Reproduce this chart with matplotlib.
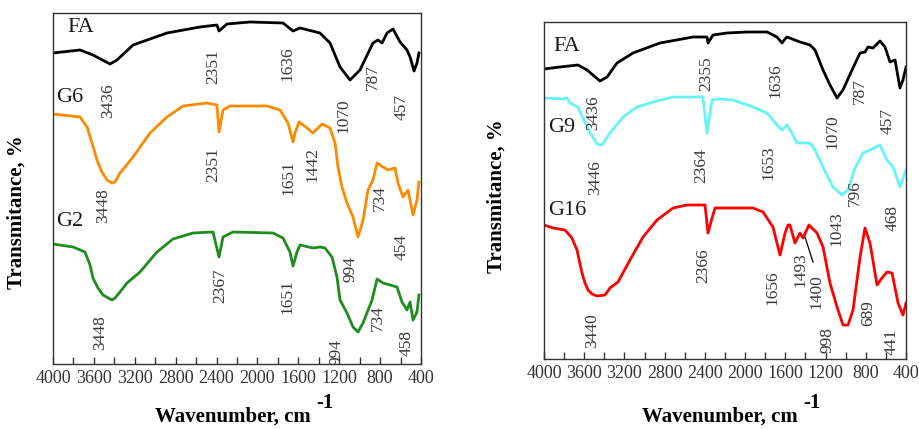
import matplotlib
matplotlib.use("Agg")
import matplotlib.pyplot as plt
from matplotlib.ticker import MultipleLocator, FixedLocator

plt.rcParams['font.family'] = ['Liberation Serif', 'DejaVu Serif']

# ---------------- data (wavenumber, cm-1 ; transmittance, arbitrary offset units) -------------
# Left panel
fa_l_wn = [4000, 3736, 3609, 3442, 3374, 3217, 2885, 2562, 2396, 2376, 2298, 2073, 1750, 1652,
           1584, 1388, 1290, 1192, 1094, 997, 870, 821, 781, 732, 674, 605, 537, 507, 468, 439, 420]
fa_l_t = [311, 314, 309, 300, 304, 319, 331, 337, 339, 333, 340, 342, 341, 333,
          336, 331, 321, 297, 284, 294, 321, 324, 321, 331, 335, 322, 314, 307, 293, 301, 311]

g6_wn = [4000, 3736, 3667, 3618, 3570, 3521, 3472, 3423, 3393, 3345, 3296, 3217, 3051, 2885, 2728,
         2493, 2396, 2376, 2337, 2268, 1907, 1779, 1701, 1652, 1633, 1593, 1515, 1457, 1368, 1290,
         1241, 1212, 1173, 1124, 1065, 1016, 967, 918, 870, 830, 772, 722, 654, 625, 576, 527,
         478, 439, 420]
g6_t = [250, 247, 237, 221, 204, 192, 184, 181, 182, 191, 197, 207, 231, 247, 258,
        261, 259, 232, 254, 258, 258, 254, 241, 222, 231, 242, 236, 231, 240, 236,
        221, 197, 177, 161, 147, 127, 144, 174, 184, 201, 197, 194, 196, 181, 167, 174,
        149, 164, 182]

g2_wn = [4000, 3804, 3687, 3638, 3609, 3560, 3511, 3423, 3393, 3345, 3276, 3149, 2983, 2826, 2630,
         2435, 2376, 2337, 2239, 1848, 1750, 1682, 1652, 1613, 1584, 1457, 1388, 1339, 1271, 1222,
         1192, 1124, 1065, 1016, 967, 879, 830, 772, 703, 635, 586, 537, 507, 478, 439, 420]
g2_t = [120, 117, 112, 99, 86, 76, 69, 64, 66, 72, 81, 92, 112, 125, 131,
        132, 107, 127, 132, 131, 126, 112, 98, 112, 119, 116, 117, 116, 107, 87,
        64, 51, 37, 32, 41, 64, 85, 81, 79, 77, 62, 54, 62, 44, 52, 69]

# Right panel
fa_r_wn = [4000, 3841, 3662, 3572, 3443, 3373, 3274, 3115, 2846, 2518, 2379, 2369, 2319, 2180,
           1981, 1782, 1683, 1633, 1603, 1583, 1454, 1355, 1305, 1225, 1156, 1086, 1027, 937,
           857, 808, 778, 728, 659, 609, 559, 509, 460, 430, 400]
fa_r_t = [290, 292, 294, 289, 278, 282, 296, 306, 316, 322, 322, 316, 324, 326,
          327, 327, 322, 316, 320, 322, 317, 314, 309, 289, 274, 261, 269, 289,
          306, 307, 312, 311, 318, 312, 297, 299, 271, 279, 292]

g9_wn = [4000, 3811, 3771, 3741, 3662, 3572, 3473, 3423, 3344, 3214, 3075, 2916, 2717, 2419,
         2379, 2329, 2250, 2120, 1922, 1782, 1683, 1633, 1583, 1534, 1484, 1355, 1305, 1225,
         1126, 1037, 977, 907, 828, 758, 659, 589, 529, 460, 400]
g9_t = [261, 260, 261, 256, 252, 232, 215, 214, 226, 242, 252, 257, 262, 262,
        226, 259, 260, 259, 252, 246, 234, 229, 234, 226, 216, 216, 209, 192,
        172, 164, 169, 191, 206, 209, 214, 199, 192, 172, 189]

g16_wn = [4000, 3910, 3791, 3722, 3672, 3622, 3592, 3562, 3523, 3473, 3393, 3344, 3264, 3145, 3015,
          2876, 2717, 2578, 2399, 2369, 2329, 2299, 1922, 1822, 1723, 1653, 1603, 1573, 1554,
          1504, 1454, 1424, 1365, 1285, 1225, 1156, 1086, 1027, 977, 927, 857, 808, 758, 688,
          639, 589, 539, 479, 430, 400]
g16_t = [134, 131, 129, 121, 109, 86, 76, 69, 65, 63, 64, 71, 77, 99, 122,
         139, 151, 154, 154, 126, 141, 151, 151, 147, 132, 104, 126, 134, 134,
         116, 126, 121, 134, 126, 112, 76, 52, 34, 34, 49, 102, 131, 116, 74,
         81, 87, 86, 56, 44, 56]

# peak labels: (text, wavenumber, level)
left_peaks = [("3436", 3462, 263), ("2351", 2435, 297), ("1636", 1711, 300), ("1070", 1163, 248),
              ("787", 870, 287), ("457", 586, 257),
              ("3448", 3511, 158), ("2351", 2435, 199), ("1651", 1701, 186), ("1442", 1466, 199),
              ("734", 801, 166), ("994", 1094, 95), ("454", 586, 117),
              ("2367", 2366, 78), ("1651", 1711, 67), ("3448", 3540, 31), ("994", 1222, 12),
              ("734", 821, 46), ("458", 537, 21)]
right_peaks = [("3436", 3513, 246), ("2355", 2389, 285), ("1636", 1703, 278), ("1070", 1136, 227),
               ("787", 857, 268), ("457", 579, 238),
               ("3446", 3493, 181), ("2364", 2439, 193), ("1653", 1772, 196), ("796", 907, 166),
               ("1043", 1096, 130), ("468", 529, 141),
               ("2366", 2419, 93), ("1656", 1733, 71), ("3440", 3523, 28), ("1493", 1454, 89),
               ("1400", 1295, 67), ("998", 1176, 19), ("689", 778, 46), ("441", 539, 17)]

left_names = [("FA", 3726, 336), ("G6", 3834, 266), ("G2", 3834, 142)]
right_names = [("FA", 3771, 312), ("G9", 3821, 231), ("G16", 3771, 148)]

xticks = [4000, 3600, 3200, 2800, 2400, 2000, 1600, 1200, 800, 400]

# ---------------- figure ----------------
W, H = 920, 429
fig = plt.figure(figsize=(W / 100, H / 100), dpi=100)


def make_ax(l, r, t, b, hmax):
    ax = fig.add_axes([l / W, 1 - b / H, (r - l) / W, (b - t) / H])
    ax.set_xlim(4000, 400)
    ax.set_ylim(0, hmax)
    ax.set_yticks([])
    ax.xaxis.set_major_locator(FixedLocator(xticks))
    ax.xaxis.set_minor_locator(MultipleLocator(200))
    ax.tick_params(axis='x', which='both', direction='in', length=5, width=1, color='#333333',
                   labelsize=13, pad=4, labelcolor='#333333')
    for s in ax.spines.values():
        s.set_color('#333333')
        s.set_linewidth(1.0)
    return ax


axL = make_ax(53, 421, 13, 364, 351)
axR = make_ax(544, 906, 22, 359, 337)

lw = 2.0
axL.plot(fa_l_wn, fa_l_t, color='black', lw=lw)
axL.plot(g6_wn, g6_t, color='#ff8a00', lw=lw)
axL.plot(g2_wn, g2_t, color='#1e8c1e', lw=lw)

axR.plot(fa_r_wn, fa_r_t, color='black', lw=lw)
axR.plot(g9_wn, g9_t, color='#66f4f4', lw=lw)
axR.plot(g16_wn, g16_t, color='#ff0000', lw=lw)

for ax, peaks, names in ((axL, left_peaks, left_names), (axR, right_peaks, right_names)):
    for txt, x, y in peaks:
        ax.text(x, y, txt, rotation=90, ha='center', va='center', fontsize=12.5,
                color='#3a3a3a', clip_on=True)
    for txt, x, y in names:
        ax.text(x, y, txt, ha='center', va='center', fontsize=16, color='#1a1a1a')

# leader line for 1400
axR.plot([1404, 1325], [122, 97], color='black', lw=0.9)

# axis labels
for cx, cy in ((17, 212), (497, 196)):
    fig.text(cx / W, 1 - cy / H, "Transmitance, %", rotation=90, ha='center', va='center',
             fontsize=15, fontweight='bold', color='black')
for cx, sx in ((233, 325), (720, 812)):
    fig.text(cx / W, 1 - 417 / H, "Wavenumber, cm", ha='center', va='center',
             fontsize=15, fontweight='bold', color='black')
    fig.text(sx / W, 1 - 403 / H, "-1", ha='center', va='center',
             fontsize=15, fontweight='bold', color='black')

fig.savefig("out.png", dpi=100)
